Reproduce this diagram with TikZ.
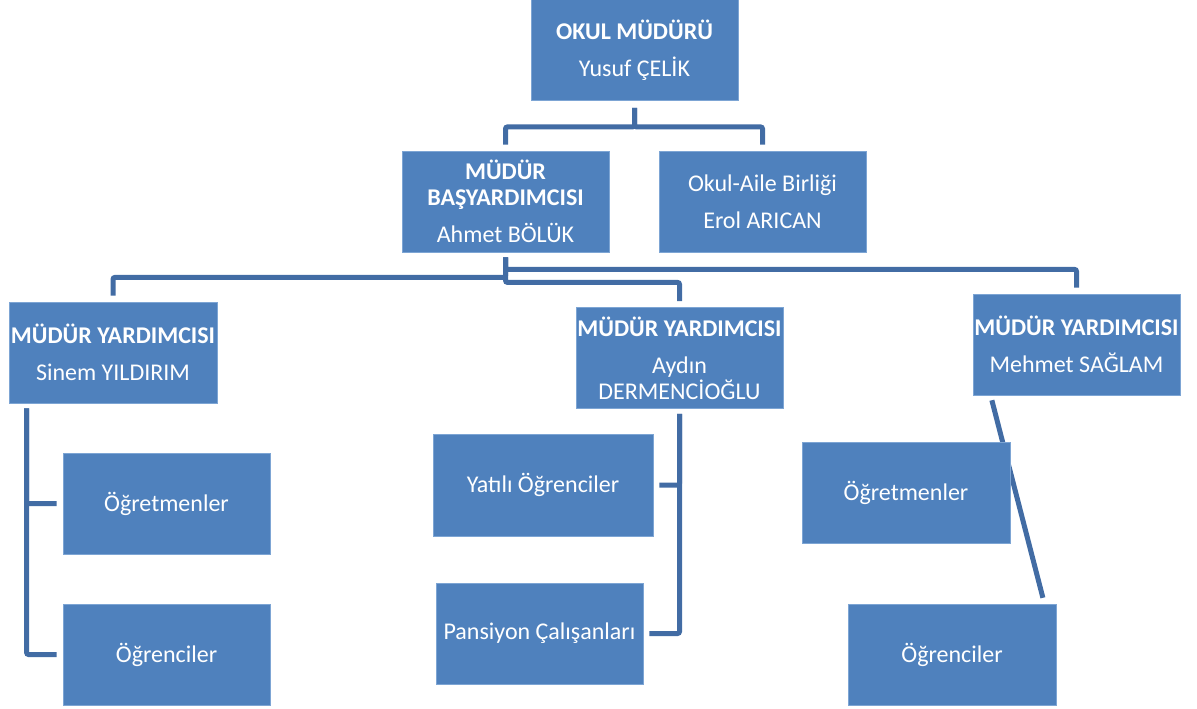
\documentclass[tikz,border=0pt]{standalone}
\usepackage{fontspec}
\setmainfont{Carlito}
\usetikzlibrary{backgrounds}
\definecolor{boxblue}{RGB}{79,129,189}
\definecolor{boxedge}{RGB}{125,165,212}
\definecolor{lineblue}{RGB}{66,108,164}

\begin{document}
\begin{tikzpicture}[x=0.75pt,y=-0.75pt,
  box/.style={fill=boxblue,draw=boxedge,line width=0.6pt,text=white,
    minimum width=155.25pt,minimum height=75.75pt,inner sep=0pt,align=center,
    font=\fontsize{18}{19.5}\selectfont},
  conn/.style={draw=lineblue,line width=3.75pt,rounded corners=1.5pt,
    shorten <=3.75pt,shorten >=4.5pt}]
\useasboundingbox (0,0) rectangle (1197,708);
\node[box] (okul) at (634.5,50) {\textbf{OKUL MÜDÜRÜ}\\[8.25pt]Yusuf ÇELİK};
\node[box] (bas) at (505.5,201.5) {\textbf{MÜDÜR}\\\textbf{BAŞYARDIMCISI}\\[8.25pt]Ahmet BÖLÜK};
\node[box] (aile) at (762.5,201.5) {Okul-Aile Birliği\\[8.25pt]Erol ARICAN};
\node[box,minimum width=156pt] (sinem) at (113,352.5) {\textbf{MÜDÜR YARDIMCISI}\\[8.25pt]Sinem YILDIRIM};
\node[box] (aydin) at (679.5,358) {\textbf{MÜDÜR YARDIMCISI}\\[8.25pt]Aydın\\DERMENCİOĞLU};
\node[box] (mehmet) at (1076.5,344.5) {\textbf{MÜDÜR YARDIMCISI}\\[8.25pt]Mehmet SAĞLAM};
\node[box] (ogretL) at (166.5,503.5) {Öğretmenler};
\node[box] (ogrenL) at (166.5,654.5) {Öğrenciler};
\node[box,minimum width=165pt,minimum height=76.5pt] (yatili) at (543,485) {Yatılı Öğrenciler};
\node[box] (pansiyon) at (539.5,633.5) {Pansiyon Çalışanları};
\node[box,minimum width=156pt] (ogretR) at (906,492.5) {Öğretmenler};
\node[box,minimum width=156pt] (ogrenR) at (952,654.5) {Öğrenciler};

\draw[conn,shorten <=5.25pt] (okul.south) -- ++(0,26) -| (bas.north);
\draw[conn,shorten <=5.25pt] (okul.south) -- ++(0,26) -| (aile.north);
\draw[conn] (bas.south) -- ++(0,25) -| (sinem.north);
\draw[conn] (bas.south) -- ++(0,30) -| (aydin.north);
\draw[conn] (bas.south) -- ++(0,17) -| (mehmet.north);
\draw[conn] ([xshift=13.5pt]sinem.south west) |- (ogretL.west);
\draw[conn] ([xshift=13.5pt]sinem.south west) |- (ogrenL.west);
\draw[conn] (aydin.south) |- (yatili.east);
\draw[conn] (aydin.south) |- (pansiyon.east);
\begin{scope}[on background layer]
\draw[conn] ([xshift=13.5pt]mehmet.south west) -- ([xshift=-9pt]ogrenR.north east);
\end{scope}
\end{tikzpicture}
\end{document}
